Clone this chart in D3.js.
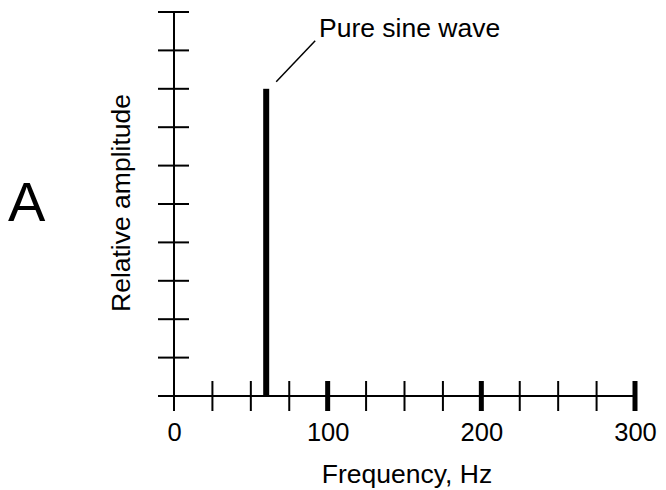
<!DOCTYPE html>
<html><head><meta charset="utf-8">
<script src="https://cdn.jsdelivr.net/npm/d3@7"></script>
<style>
html,body{margin:0;padding:0;background:#fff;}
text{font-family:"Liberation Sans",Arial,Helvetica,sans-serif;fill:#000;}
</style></head>
<body><svg id="chart" width="666" height="490"></svg>
<script>
const frequencies = [60];
const amplitudes = [8];
const xMajorTicks = [0, 100, 200, 300];
const xMinorTicks = [25, 50, 75, 125, 150, 175, 225, 250, 275];
const yTicks = [0, 1, 2, 3, 4, 5, 6, 7, 8, 9, 10];
const xLabel = "Frequency, Hz";
const yLabel = "Relative amplitude";
const annotation = "Pure sine wave";
const panelLetter = "A";

const svg = d3.select("#chart");
const x = d3.scaleLinear().domain([0, 300]).range([174, 635]);
const y = d3.scaleLinear().domain([0, 10]).range([396, 12]);

// x axis line
svg.append("line").attr("x1", 160).attr("x2", x(300)).attr("y1", y(0)).attr("y2", y(0))
  .attr("stroke", "#000").attr("stroke-width", 2);
// y axis line
svg.append("line").attr("x1", x(0)).attr("x2", x(0)).attr("y1", y(10)).attr("y2", y(0) + 15)
  .attr("stroke", "#000").attr("stroke-width", 2);

// y ticks
svg.selectAll(".ytick").data(yTicks).join("line")
  .attr("x1", x(0) - 16).attr("x2", x(0) + 15)
  .attr("y1", d => y(d)).attr("y2", d => y(d))
  .attr("stroke", "#000").attr("stroke-width", 2);

// x minor ticks
svg.selectAll(".xminor").data(xMinorTicks).join("line")
  .attr("x1", d => x(d)).attr("x2", d => x(d))
  .attr("y1", y(0) - 15).attr("y2", y(0) + 15)
  .attr("stroke", "#000").attr("stroke-width", 2);
// x major ticks
svg.selectAll(".xmajor").data(xMajorTicks.filter(d => d > 0)).join("line")
  .attr("x1", d => x(d)).attr("x2", d => x(d))
  .attr("y1", y(0) - 15).attr("y2", y(0) + 15)
  .attr("stroke", "#000").attr("stroke-width", 5);

// x tick labels via axis
const xAxis = d3.axisBottom(x).tickValues(xMajorTicks).tickSize(0).tickPadding(0).tickFormat(d3.format("d"));
const gx = svg.append("g").attr("transform", `translate(0,${y(0)})`).call(xAxis);
gx.select(".domain").remove();
gx.selectAll("text").attr("font-size", 25.5).attr("dy", null).attr("y", 45)
  .attr("font-family", '"Liberation Sans",Arial,sans-serif').attr("fill", "#000");

// bars
svg.selectAll(".bar").data(frequencies).join("rect")
  .attr("x", d => x(d) - 3).attr("width", 6)
  .attr("y", (d, i) => y(amplitudes[i])).attr("height", (d, i) => y(0) - y(amplitudes[i]))
  .attr("fill", "#000");

// annotation
svg.append("line").attr("x1", x(frequencies[0]) + 10).attr("y1", y(amplitudes[0]) - 7)
  .attr("x2", x(frequencies[0]) + 49).attr("y2", y(amplitudes[0]) - 48)
  .attr("stroke", "#000").attr("stroke-width", 1.5);
svg.append("text").attr("x", 319).attr("y", 37).attr("font-size", 26.5).text(annotation);

// axis labels
svg.append("text").attr("x", 407).attr("y", 483).attr("text-anchor", "middle").attr("font-size", 26.5).text(xLabel);
svg.append("text").attr("transform", "translate(130,203) rotate(-90)").attr("text-anchor", "middle")
  .attr("font-size", 26.5).text(yLabel);

svg.append("text").attr("x", 8).attr("y", 221).attr("font-size", 56).text(panelLetter);
</script></body></html>
